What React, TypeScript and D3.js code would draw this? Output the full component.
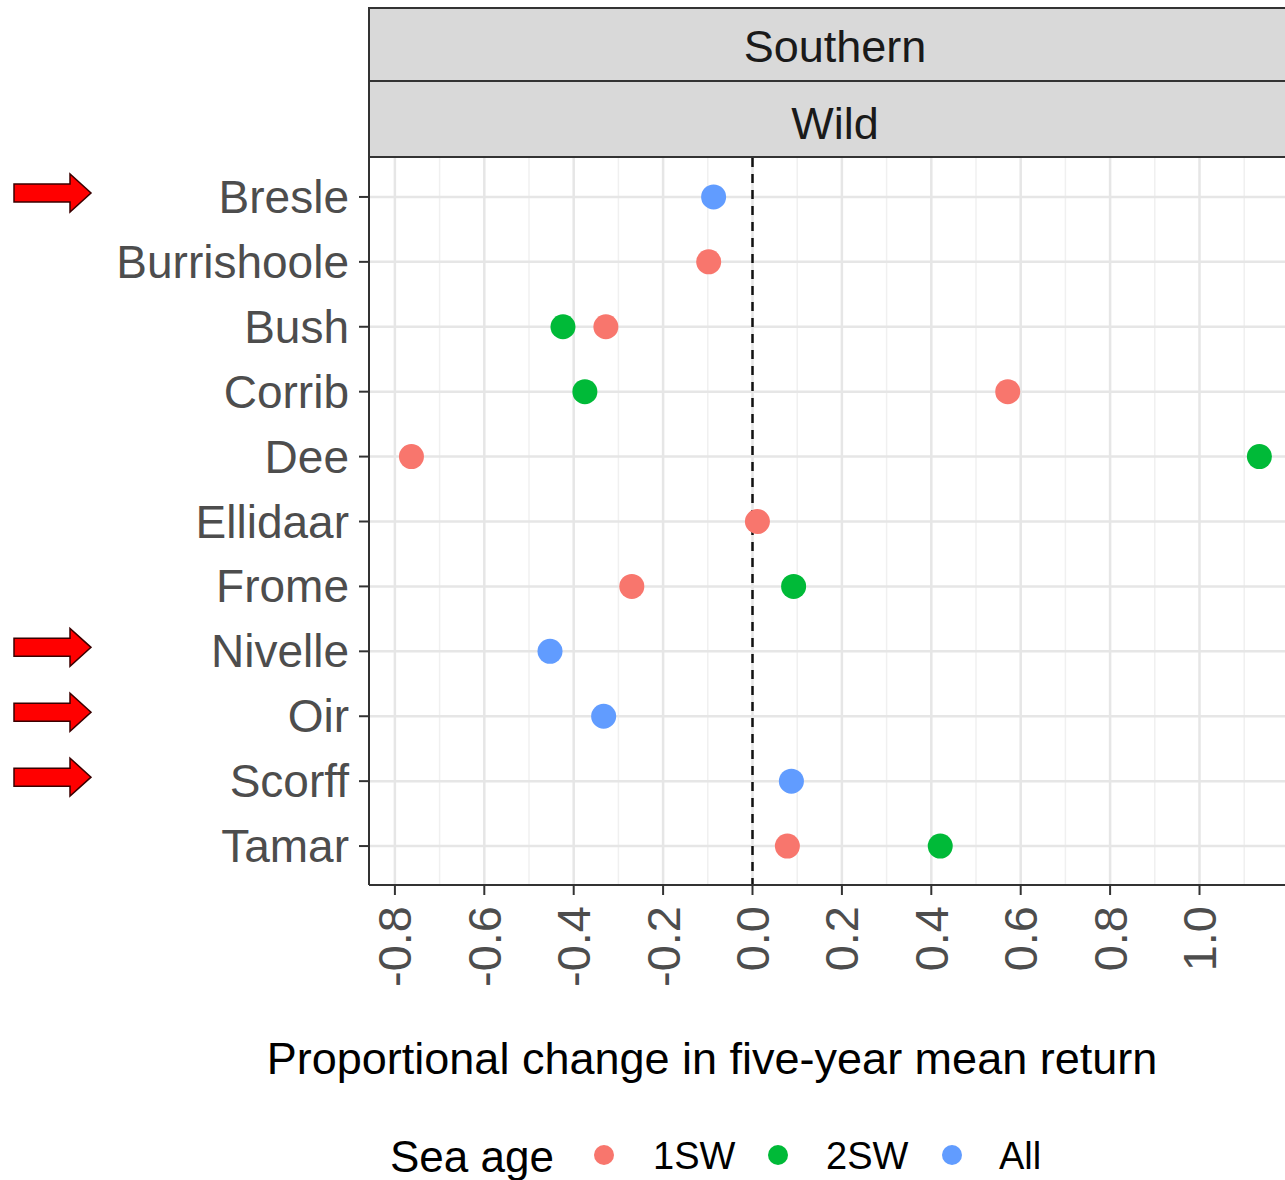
import React from "react";
import * as d3 from "d3";

const rivers = ["Bresle", "Burrishoole", "Bush", "Corrib", "Dee", "Ellidaar", "Frome", "Nivelle", "Oir", "Scorff", "Tamar"];
const seaAges = ["1SW", "2SW", "All"];
const ageColors = ["#F8766D", "#00BA38", "#619CFF"];
const pointRiver = ["Bresle", "Burrishoole", "Bush", "Bush", "Corrib", "Corrib", "Dee", "Dee", "Ellidaar", "Frome", "Frome", "Nivelle", "Oir", "Scorff", "Tamar", "Tamar"];
const pointAge = ["All", "1SW", "2SW", "1SW", "2SW", "1SW", "1SW", "2SW", "1SW", "1SW", "2SW", "All", "All", "All", "1SW", "2SW"];
const pointValue = [-0.087, -0.098, -0.424, -0.328, -0.375, 0.571, -0.763, 1.134, 0.011, -0.27, 0.092, -0.453, -0.333, 0.087, 0.078, 0.42];
const xTicks = [-0.8, -0.6, -0.4, -0.2, 0.0, 0.2, 0.4, 0.6, 0.8, 1.0];
const markedRivers = ["Bresle", "Nivelle", "Oir", "Scorff"];
const stripTop = "Southern";
const stripBottom = "Wild";
const xTitle = "Proportional change in five-year mean return";
const legendTitle = "Sea age";

const FONT = "'Liberation Sans', Arial, sans-serif";

export default function App() {
  const W = 1285, H = 1180;
  const pL = 369, pR = 1301, pT = 158, pB = 885;
  const x = d3.scaleLinear().domain([(pL - 752.5) / 447, (pR - 752.5) / 447]).range([pL, pR]);
  const y = d3.scalePoint<string>().domain(rivers).range([pT, pB]).padding(0.6);
  const color = d3.scaleOrdinal<string, string>().domain(seaAges).range(ageColors);
  const [d0, d1] = x.domain();
  const minor = d3.range(-0.9, 1.25, 0.2).map((v) => Math.round(v * 10) / 10).filter((v) => v > d0 && v < d1);

  return (
    <svg width={W} height={H} style={{ position: "absolute", left: 0, top: 0, background: "#fff" }} fontFamily={FONT}>
      <rect x={0} y={0} width={W} height={H} fill="#fff" />
      {/* strips */}
      <rect x={pL} y={8} width={pR - pL} height={73} fill="#d9d9d9" stroke="#333" strokeWidth={2} />
      <rect x={pL} y={81} width={pR - pL} height={76} fill="#d9d9d9" stroke="#333" strokeWidth={2} />
      <text x={(pL + pR) / 2} y={46} textAnchor="middle" dominantBaseline="central" fontSize={45} fill="#1a1a1a">{stripTop}</text>
      <text x={(pL + pR) / 2} y={123} textAnchor="middle" dominantBaseline="central" fontSize={45} fill="#1a1a1a">{stripBottom}</text>
      {/* panel */}
      <rect x={pL} y={pT} width={pR - pL} height={pB - pT} fill="#fff" />
      {minor.map((v) => (
        <line key={"mn" + v} x1={x(v)} x2={x(v)} y1={pT} y2={pB} stroke="#f0f0f0" strokeWidth={1.5} />
      ))}
      {xTicks.map((v) => (
        <line key={"mj" + v} x1={x(v)} x2={x(v)} y1={pT} y2={pB} stroke="#e6e6e6" strokeWidth={2.5} />
      ))}
      {rivers.map((r) => (
        <line key={"h" + r} x1={pL} x2={pR} y1={y(r)} y2={y(r)} stroke="#e6e6e6" strokeWidth={2.5} />
      ))}
      <line x1={x(0)} x2={x(0)} y1={pT} y2={pB} stroke="#111" strokeWidth={2.5} strokeDasharray="9,7" />
      {pointValue.map((v, i) => (
        <circle key={"p" + i} cx={x(v)} cy={y(pointRiver[i])} r={12.5} fill={color(pointAge[i])} />
      ))}
      <line x1={pL} x2={pR} y1={pB} y2={pB} stroke="#333" strokeWidth={2} />
      <line x1={pL} x2={pL} y1={8} y2={pB} stroke="#333" strokeWidth={2} />
      {/* y axis */}
      {rivers.map((r) => (
        <g key={"yl" + r}>
          <line x1={pL - 10} x2={pL} y1={y(r)} y2={y(r)} stroke="#333" strokeWidth={2} />
          <text x={pL - 20} y={y(r)} textAnchor="end" dominantBaseline="central" fontSize={46} fill="#4d4d4d">{r}</text>
        </g>
      ))}
      {/* x axis */}
      {xTicks.map((v) => (
        <g key={"xl" + v} transform={`translate(${x(v)},${pB})`}>
          <line y1={0} y2={10} stroke="#333" strokeWidth={2} />
          <text transform="translate(0,21) rotate(-90)" textAnchor="end" dominantBaseline="central" fontSize={47} fill="#4d4d4d">{d3.format(".1f")(v).replace("−", "-")}</text>
        </g>
      ))}
      <text x={712} y={1058} textAnchor="middle" dominantBaseline="central" fontSize={45} fill="#000">{xTitle}</text>
      {/* legend */}
      <text x={390} y={1156} dominantBaseline="central" fontSize={44} fill="#000">{legendTitle}</text>
      {seaAges.map((a, i) => (
        <g key={"lg" + a}>
          <circle cx={604 + i * 174} cy={1155} r={10} fill={color(a)} />
          <text x={653 + i * 173} y={1156} dominantBaseline="central" fontSize={38} fill="#000">{a}</text>
        </g>
      ))}
      {/* annotation arrows */}
      {markedRivers.map((r) => {
        const cy = y(r)! - 4;
        const path = `M14,${cy - 9} L70,${cy - 9} L70,${cy - 19} L91,${cy} L70,${cy + 19} L70,${cy + 9} L14,${cy + 9} Z`;
        return <path key={"ar" + r} d={path} fill="#ff0000" stroke="#3a0000" strokeWidth={1.5} />;
      })}
    </svg>
  );
}
